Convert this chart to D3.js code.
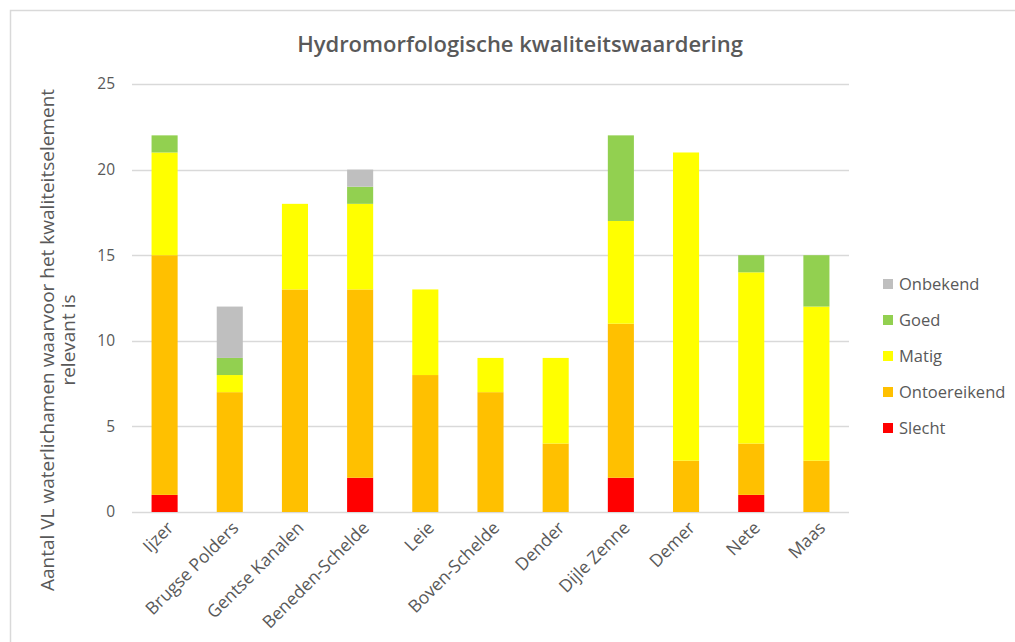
<!DOCTYPE html>
<html>
<head>
<meta charset="utf-8">
<script src="https://cdn.jsdelivr.net/npm/d3@7"></script>
<style>
  html, body { margin: 0; padding: 0; background: #fff; }
  svg text { font-family: "Open Sans", Lato, sans-serif; fill: #595959; }
</style>
</head>
<body>
<svg id="chart" width="1015" height="642"></svg>
<script>
// Stroomgebieden
const categories = ["Ijzer", "Brugse Polders", "Gentse Kanalen", "Beneden-Schelde", "Leie",
  "Boven-Schelde", "Dender", "Dijle Zenne", "Demer", "Nete", "Maas"];

// Aantal waterlichamen per kwaliteitsklasse
const slecht       = [1, 0, 0, 2, 0, 0, 0, 2, 0, 1, 0];
const ontoereikend = [14, 7, 13, 11, 8, 7, 4, 9, 3, 3, 3];
const matig        = [6, 1, 5, 5, 5, 2, 5, 6, 18, 10, 9];
const goed         = [1, 1, 0, 1, 0, 0, 0, 5, 0, 1, 3];
const onbekend     = [0, 3, 0, 1, 0, 0, 0, 0, 0, 0, 0];

const seriesNames = ["Slecht", "Ontoereikend", "Matig", "Goed", "Onbekend"];
const seriesColors = ["#FF0000", "#FFC000", "#FFFF00", "#92D050", "#BFBFBF"];
const yTicks = [0, 5, 10, 15, 20, 25];

const FONT = "'Open Sans', Lato, sans-serif";
const svg = d3.select("#chart");

// kader rond de grafiek
svg.append("rect")
  .attr("x", 10.5).attr("y", 10.5)
  .attr("width", 1030).attr("height", 660)
  .attr("fill", "none").attr("stroke", "#D9D9D9").attr("stroke-width", 1.5);

const plot = { left: 132, right: 849, top: 84, bottom: 512 };

const x = d3.scaleBand().domain(categories).range([plot.left, plot.right]).paddingInner(0.6).paddingOuter(0.3);
const y = d3.scaleLinear().domain([0, 25]).range([plot.bottom, plot.top]);

// rasterlijnen
svg.append("g").selectAll("line").data(yTicks).join("line")
  .attr("x1", plot.left).attr("x2", plot.right)
  .attr("y1", d => Math.round(y(d)) + 0.5).attr("y2", d => Math.round(y(d)) + 0.5)
  .attr("stroke", "#D9D9D9").attr("stroke-width", 1.3);

// y-as
const yAxis = svg.append("g").attr("transform", `translate(${plot.left},0)`)
  .call(d3.axisLeft(y).tickValues(yTicks).tickSize(0).tickPadding(17));
yAxis.select(".domain").remove();
yAxis.selectAll("text").style("font-size", "15.5px").style("fill", "#595959")
  .style("font-family", FONT);

// gestapelde staven
const rows = categories.map((c, i) => ({
  cat: c,
  Slecht: slecht[i], Ontoereikend: ontoereikend[i], Matig: matig[i],
  Goed: goed[i], Onbekend: onbekend[i]
}));
const stacked = d3.stack().keys(seriesNames)(rows);

svg.append("g").selectAll("g").data(stacked).join("g")
  .attr("fill", (d, i) => seriesColors[i])
  .selectAll("rect").data(d => d).join("rect")
  .attr("x", d => x(d.data.cat))
  .attr("width", x.bandwidth())
  .attr("y", d => y(d[1]))
  .attr("height", d => y(d[0]) - y(d[1]));

// x-as labels
const xAxis = svg.append("g").attr("transform", `translate(0,${plot.bottom})`)
  .call(d3.axisBottom(x).tickSize(0).tickPadding(0));
xAxis.select(".domain").remove();
xAxis.selectAll("text")
  .style("font-size", "17.5px").style("fill", "#595959")
  .style("font-family", FONT)
  .attr("text-anchor", "end")
  .attr("dy", null).attr("y", 0)
  .attr("transform", "translate(10,17) rotate(-45)");

// titel
svg.append("text")
  .attr("x", 520).attr("y", 52)
  .attr("text-anchor", "middle")
  .style("font-size", "22px").style("font-weight", "600")
  .text("Hydromorfologische kwaliteitswaardering");

// y-as titel
const yTitle = svg.append("text")
  .attr("transform", `translate(54,340) rotate(-90)`)
  .attr("text-anchor", "middle")
  .style("font-size", "19px");
yTitle.append("tspan").attr("x", 0).attr("dy", 0)
  .text("Aantal VL waterlichamen waarvoor het kwaliteitselement");
yTitle.append("tspan").attr("x", 0).attr("dy", 21).text("relevant is");

// legenda
const legendOrder = [4, 3, 2, 1, 0];
const legend = svg.append("g").selectAll("g").data(legendOrder).join("g")
  .attr("transform", (d, i) => `translate(883,${284 + i * 36})`);
legend.append("rect").attr("x", 0).attr("y", -5).attr("width", 10).attr("height", 10)
  .attr("fill", d => seriesColors[d]);
legend.append("text").attr("x", 16).attr("y", 0).attr("dy", "0.35em")
  .style("font-size", "16.5px")
  .text(d => seriesNames[d]);
</script>
</body>
</html>
